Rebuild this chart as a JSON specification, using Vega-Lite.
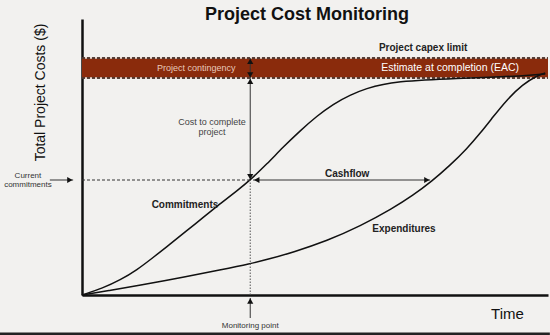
{
  "$schema": "https://vega.github.io/schema/vega-lite/v6.json",
  "autosize": "none",
  "width": 466,
  "height": 276,
  "padding": {"left": 82, "top": 19, "right": 2, "bottom": 40},
  "background": "#f2f1ef",
  "config": {"view": {"stroke": null}, "font": "Liberation Sans"},
  "title": {"text": "Project Cost Monitoring", "fontSize": 18, "fontWeight": "bold", "color": "#111", "anchor": "middle", "dx": -8, "dy": 7, "offset": 2, "font": "Liberation Sans"},
  "layer": [
    {
      "data": {"values": [{"t0": 0, "t1": 100, "c0": 94.3, "c1": 103}]},
      "mark": {"type": "rect", "color": "#8a2b0c"},
      "encoding": {
        "x": {"field": "t0", "type": "quantitative", "scale": {"domain": [0, 100], "nice": false, "zero": false},
          "axis": {"title": "Time", "labels": false, "ticks": false, "grid": false, "domainColor": "#111", "domainWidth": 2.5, "titleFontSize": 15, "titleFontWeight": "normal", "titleColor": "#111", "titleX": 425, "titleY": 18, "titleBaseline": "middle", "titleAlign": "center", "titleFont": "Liberation Sans"}},
        "x2": {"field": "t1"},
        "y": {"field": "c0", "type": "quantitative", "scale": {"domain": [0, 120], "nice": false, "zero": false},
          "axis": {"title": "Total Project Costs ($)", "labels": false, "ticks": false, "grid": false, "domainColor": "#111", "domainWidth": 2.5, "titleFontSize": 14, "titleFontWeight": "normal", "titleColor": "#111", "titleX": -42, "titleY": 73, "titleAngle": -90, "titleBaseline": "middle", "titleAlign": "center", "titleFont": "Liberation Sans"}},
        "y2": {"field": "c1"}
      }
    },
    {
      "data": {"values": [{"t0": 0, "t1": 100, "c": 94.3}, {"t0": 0, "t1": 100, "c": 103}]},
      "layer": [
        {"mark": {"type": "rule", "color": "#e8d8d0", "strokeWidth": 1.5}},
        {"mark": {"type": "rule", "color": "#2a1008", "strokeWidth": 1.5, "strokeDash": [3, 2]}}
      ],
      "encoding": {
        "x": {"field": "t0", "type": "quantitative"},
        "x2": {"field": "t1"},
        "y": {"field": "c", "type": "quantitative"}
      }
    },
    {
      "data": {"values": [
        {"series": "Commitments", "t": 0, "c": 0},
        {"series": "Commitments", "t": 4.5, "c": 3.0},
        {"series": "Commitments", "t": 8.2, "c": 6.5},
        {"series": "Commitments", "t": 11.8, "c": 10.9},
        {"series": "Commitments", "t": 15.2, "c": 16.2},
        {"series": "Commitments", "t": 18.9, "c": 22.1},
        {"series": "Commitments", "t": 22.5, "c": 28.0},
        {"series": "Commitments", "t": 26.0, "c": 33.7},
        {"series": "Commitments", "t": 29.6, "c": 39.6},
        {"series": "Commitments", "t": 33.3, "c": 45.4},
        {"series": "Commitments", "t": 36.1, "c": 50.0},
        {"series": "Commitments", "t": 39.7, "c": 57.0},
        {"series": "Commitments", "t": 43.1, "c": 64.2},
        {"series": "Commitments", "t": 46.8, "c": 71.4},
        {"series": "Commitments", "t": 50.4, "c": 77.8},
        {"series": "Commitments", "t": 53.9, "c": 83.0},
        {"series": "Commitments", "t": 57.5, "c": 87.0},
        {"series": "Commitments", "t": 61.2, "c": 89.9},
        {"series": "Commitments", "t": 64.6, "c": 91.7},
        {"series": "Commitments", "t": 68.2, "c": 92.7},
        {"series": "Commitments", "t": 73.2, "c": 93.5},
        {"series": "Commitments", "t": 80.5, "c": 94.2},
        {"series": "Commitments", "t": 87.6, "c": 94.7},
        {"series": "Commitments", "t": 94.0, "c": 95.2},
        {"series": "Commitments", "t": 99.4, "c": 96.1},
        {"series": "Expenditures", "t": 0, "c": 0},
        {"series": "Expenditures", "t": 6.0, "c": 2.0},
        {"series": "Expenditures", "t": 11.8, "c": 4.0},
        {"series": "Expenditures", "t": 22.5, "c": 8.0},
        {"series": "Expenditures", "t": 29.6, "c": 10.9},
        {"series": "Expenditures", "t": 36.1, "c": 13.6},
        {"series": "Expenditures", "t": 40.3, "c": 15.7},
        {"series": "Expenditures", "t": 45.3, "c": 18.6},
        {"series": "Expenditures", "t": 52.6, "c": 23.6},
        {"series": "Expenditures", "t": 59.7, "c": 29.9},
        {"series": "Expenditures", "t": 66.7, "c": 37.7},
        {"series": "Expenditures", "t": 71.0, "c": 43.3},
        {"series": "Expenditures", "t": 75.1, "c": 49.5},
        {"series": "Expenditures", "t": 79.0, "c": 56.4},
        {"series": "Expenditures", "t": 82.6, "c": 63.6},
        {"series": "Expenditures", "t": 85.4, "c": 70.2},
        {"series": "Expenditures", "t": 88.2, "c": 77.4},
        {"series": "Expenditures", "t": 91.2, "c": 85.0},
        {"series": "Expenditures", "t": 94.6, "c": 91.6},
        {"series": "Expenditures", "t": 97.6, "c": 95.3},
        {"series": "Expenditures", "t": 99.4, "c": 96.5}
      ]},
      "mark": {"type": "line", "color": "#111", "strokeWidth": 1.5, "interpolate": "basis"},
      "encoding": {
        "x": {"field": "t", "type": "quantitative"},
        "y": {"field": "c", "type": "quantitative"},
        "detail": {"field": "series"}
      }
    },
    {
      "data": {"values": [
        {"name": "current commitments", "t0": 0, "t1": 36.1, "c0": 50, "c1": 50}
      ]},
      "mark": {"type": "rule", "color": "#333", "strokeWidth": 1, "strokeDash": [3, 2]},
      "encoding": {
        "x": {"field": "t0", "type": "quantitative"},
        "x2": {"field": "t1"},
        "y": {"field": "c0", "type": "quantitative"},
        "y2": {"field": "c1"}
      }
    },
    {
      "data": {"values": [
        {"name": "monitoring", "t0": 36.1, "t1": 36.1, "c0": 0, "c1": 50}
      ]},
      "mark": {"type": "rule", "color": "#555", "strokeWidth": 1, "strokeDash": [1.5, 1.5]},
      "encoding": {
        "x": {"field": "t0", "type": "quantitative"},
        "x2": {"field": "t1"},
        "y": {"field": "c0", "type": "quantitative"},
        "y2": {"field": "c1"}
      }
    },
    {
      "data": {"values": [
        {"name": "cost to complete", "t0": 36.1, "t1": 36.1, "c0": 50.5, "c1": 94.3},
        {"name": "contingency", "t0": 36.1, "t1": 36.1, "c0": 94.3, "c1": 103},
        {"name": "cashflow", "t0": 36.7, "t1": 74.7, "c0": 50, "c1": 50},
        {"name": "current commitments", "t0": -6.9, "t1": -1.9, "c0": 50, "c1": 50},
        {"name": "monitoring point", "t0": 36.1, "t1": 36.1, "c0": -10, "c1": -1.3}
      ]},
      "mark": {"type": "rule", "color": "#333", "strokeWidth": 1, "clip": false},
      "encoding": {
        "x": {"field": "t0", "type": "quantitative"},
        "x2": {"field": "t1"},
        "y": {"field": "c0", "type": "quantitative"},
        "y2": {"field": "c1"}
      }
    },
    {
      "data": {"values": [
        {"dir": "down", "t": 36.1, "c": 51.4},
        {"dir": "up", "t": 36.1, "c": 92.9},
        {"dir": "up", "t": 36.1, "c": 101.6},
        {"dir": "down", "t": 36.1, "c": 95.7},
        {"dir": "left", "t": 37.5, "c": 50},
        {"dir": "right", "t": 74.0, "c": 50},
        {"dir": "right", "t": -2.6, "c": 50},
        {"dir": "up", "t": 36.1, "c": -2.6}
      ]},
      "mark": {"type": "point", "filled": true, "color": "#111", "opacity": 1, "size": 38, "clip": false},
      "encoding": {
        "x": {"field": "t", "type": "quantitative"},
        "y": {"field": "c", "type": "quantitative"},
        "shape": {"field": "dir", "type": "nominal", "legend": null,
          "scale": {"domain": ["up", "down", "left", "right"], "range": ["triangle-up", "triangle-down", "triangle-left", "triangle-right"]}}
      }
    },
    {
      "data": {"values": [
        {"label": "Project capex limit", "t": 73.2, "c": 107.4},
        {"label": "Cashflow", "t": 56.9, "c": 52.8},
        {"label": "Commitments", "t": 22.1, "c": 39.1},
        {"label": "Expenditures", "t": 69.1, "c": 28.7}
      ]},
      "mark": {"type": "text", "fontSize": 10, "fontWeight": "bold", "color": "#222", "align": "center", "baseline": "middle"},
      "encoding": {
        "x": {"field": "t", "type": "quantitative"},
        "y": {"field": "c", "type": "quantitative"},
        "text": {"field": "label"}
      }
    },
    {
      "data": {"values": [
        {"label": "Estimate at completion (EAC)", "t": 79.0, "c": 98.7}
      ]},
      "mark": {"type": "text", "fontSize": 10.5, "color": "#ffffff", "align": "center", "baseline": "middle"},
      "encoding": {
        "x": {"field": "t", "type": "quantitative"},
        "y": {"field": "c", "type": "quantitative"},
        "text": {"field": "label"}
      }
    },
    {
      "data": {"values": [
        {"label": "Project contingency", "t": 24.5, "c": 98.7}
      ]},
      "mark": {"type": "text", "fontSize": 9, "color": "#e9c9b9", "align": "center", "baseline": "middle"},
      "encoding": {
        "x": {"field": "t", "type": "quantitative"},
        "y": {"field": "c", "type": "quantitative"},
        "text": {"field": "label"}
      }
    },
    {
      "data": {"values": [
        {"label": "Cost to complete", "t": 27.9, "c": 75.2},
        {"label": "project", "t": 27.9, "c": 70.9}
      ]},
      "mark": {"type": "text", "fontSize": 9, "color": "#444", "align": "center", "baseline": "middle"},
      "encoding": {
        "x": {"field": "t", "type": "quantitative"},
        "y": {"field": "c", "type": "quantitative"},
        "text": {"field": "label"}
      }
    },
    {
      "data": {"values": [
        {"label": "Current", "t": -11.6, "c": 51.7},
        {"label": "commitments", "t": -11.6, "c": 47.8},
        {"label": "Monitoring point", "t": 36.1, "c": -13.5}
      ]},
      "mark": {"type": "text", "fontSize": 8, "color": "#333", "align": "center", "baseline": "middle", "clip": false},
      "encoding": {
        "x": {"field": "t", "type": "quantitative"},
        "y": {"field": "c", "type": "quantitative"},
        "text": {"field": "label"}
      }
    },
    {
      "data": {"values": [{"t0": -17.6, "t1": 100.4, "c": -17}]},
      "mark": {"type": "rule", "color": "#222", "strokeWidth": 3, "clip": false},
      "encoding": {
        "x": {"field": "t0", "type": "quantitative"},
        "x2": {"field": "t1"},
        "y": {"field": "c", "type": "quantitative"}
      }
    }
  ]
}
